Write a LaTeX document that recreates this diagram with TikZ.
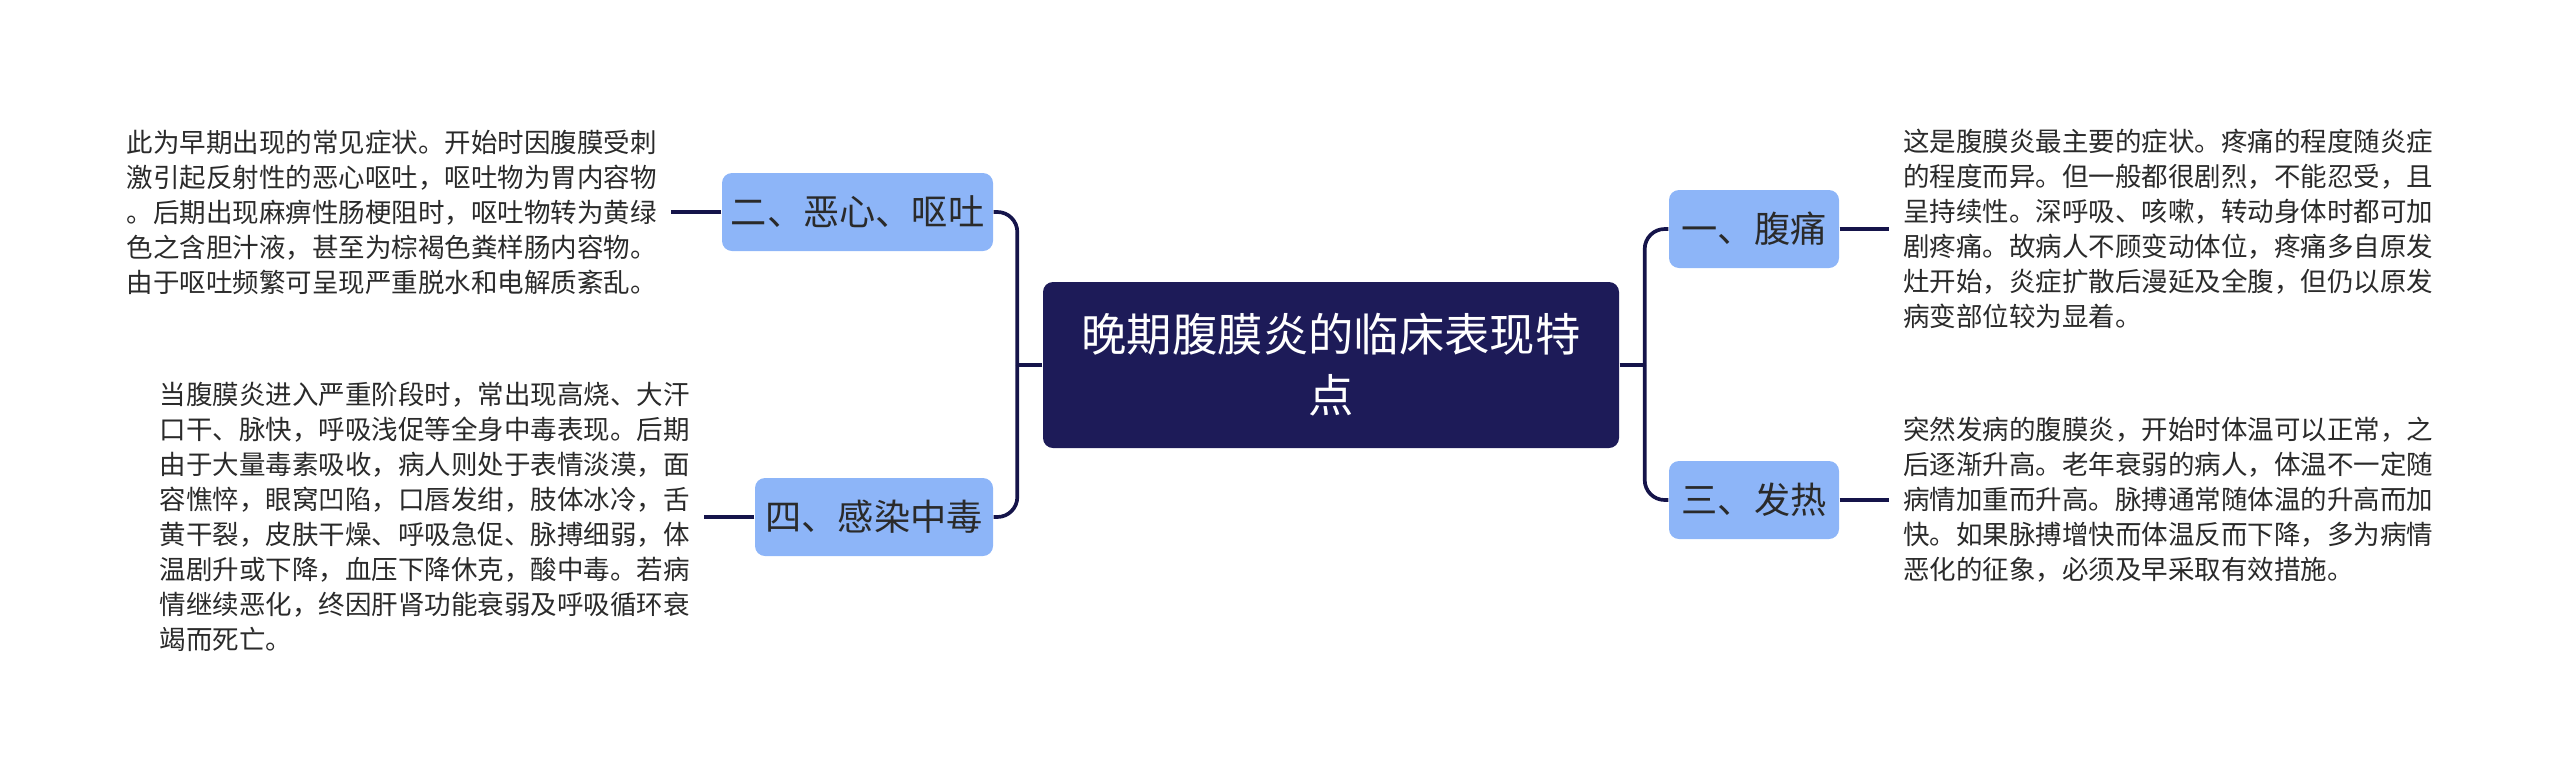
\documentclass[tikz,border=0pt]{standalone}
\usepackage{fontspec}
\setmainfont{Noto Sans CJK SC}
\usetikzlibrary{positioning, calc}
\usepackage{xcolor}

\definecolor{rootblue}{HTML}{1D1B58}
\definecolor{linkblue}{HTML}{15144A}
\definecolor{topicblue}{HTML}{8DB5F8}
\definecolor{notegray}{HTML}{2A2A2A}

\tikzset{
  rootbox/.style={rectangle, rounded corners=0.1cm, fill=rootblue, text=white, align=center,
    minimum width=5.76cm, minimum height=1.66cm, inner sep=0pt, font=\fontsize{12.9pt}{17.4pt}\selectfont},
  topicbox/.style={rectangle, rounded corners=0.1cm, fill=topicblue, text=notegray,
    minimum height=0.78cm, inner sep=0pt, font=\fontsize{10.3pt}{12.5pt}\selectfont},
  notetext/.style={align=left, text=notegray, inner sep=0.14cm, font=\fontsize{7.54pt}{9.96pt}\selectfont},
  link/.style={draw=linkblue, line width=1.05pt, rounded corners=0.2cm}
}

\begin{document}
\begin{tikzpicture}
        \useasboundingbox (0, 0) rectangle (25.6, 7.81);

        \node[rootbox] (root) at (13.31, 4.16) {晚期腹膜炎的临床表现特\\点};

        \node[topicbox, minimum width=1.70cm] (pain) at (17.54, 5.52) {一、腹痛};
        \node[topicbox, minimum width=1.70cm] (fever) at (17.54, 2.81) {三、发热};
        \node[topicbox, minimum width=2.71cm] (nausea) at (8.575, 5.69) {二、恶心、呕吐};
        \node[topicbox, minimum width=2.38cm] (toxic) at (8.74, 2.64) {四、感染中毒};

        \node[notetext, right=0.49cm of pain] (painnote) {这是腹膜炎最主要的症状。疼痛的程度随炎症\\的程度而异。但一般都很剧烈，不能忍受，且\\呈持续性。深呼吸、咳嗽，转动身体时都可加\\剧疼痛。故病人不顾变动体位，疼痛多自原发\\灶开始，炎症扩散后漫延及全腹，但仍以原发\\病变部位较为显着。};
        \node[notetext, right=0.49cm of fever] (fevernote) {突然发病的腹膜炎，开始时体温可以正常，之\\后逐渐升高。老年衰弱的病人，体温不一定随\\病情加重而升高。脉搏通常随体温的升高而加\\快。如果脉搏增快而体温反而下降，多为病情\\恶化的征象，必须及早采取有效措施。};
        \node[notetext, left=0.5cm of nausea] (nauseanote) {此为早期出现的常见症状。开始时因腹膜受刺\\激引起反射性的恶心呕吐，呕吐物为胃内容物\\。后期出现麻痹性肠梗阻时，呕吐物转为黄绿\\色之含胆汁液，甚至为棕褐色粪样肠内容物。\\由于呕吐频繁可呈现严重脱水和电解质紊乱。};
        \node[notetext, left=0.5cm of toxic] (toxicnote) {当腹膜炎进入严重阶段时，常出现高烧、大汗\\口干、脉快，呼吸浅促等全身中毒表现。后期\\由于大量毒素吸收，病人则处于表情淡漠，面\\容憔悴，眼窝凹陷，口唇发绀，肢体冰冷，舌\\黄干裂，皮肤干燥、呼吸急促、脉搏细弱，体\\温剧升或下降，血压下降休克，酸中毒。若病\\情继续恶化，终因肝肾功能衰弱及呼吸循环衰\\竭而死亡。};

        % branches
        \coordinate (jr) at ($(root.east) + (0.25, 0)$);
        \coordinate (jl) at ($(root.west) + (-0.25, 0)$);
        \draw[link] (root.east) -- (jr);
        \draw[link] (jr) |- (pain.west);
        \draw[link] (jr) |- (fever.west);
        \draw[link] (root.west) -- (jl);
        \draw[link] (jl) |- (nausea.east);
        \draw[link] (jl) |- (toxic.east);

        \draw[link] (pain.east) -- (painnote.west);
        \draw[link] (fever.east) -- (fevernote.west);
        \draw[link] (nausea.west) -- (nauseanote.east);
        \draw[link] (toxic.west) -- (toxicnote.east);
      \end{tikzpicture}
\end{document}
